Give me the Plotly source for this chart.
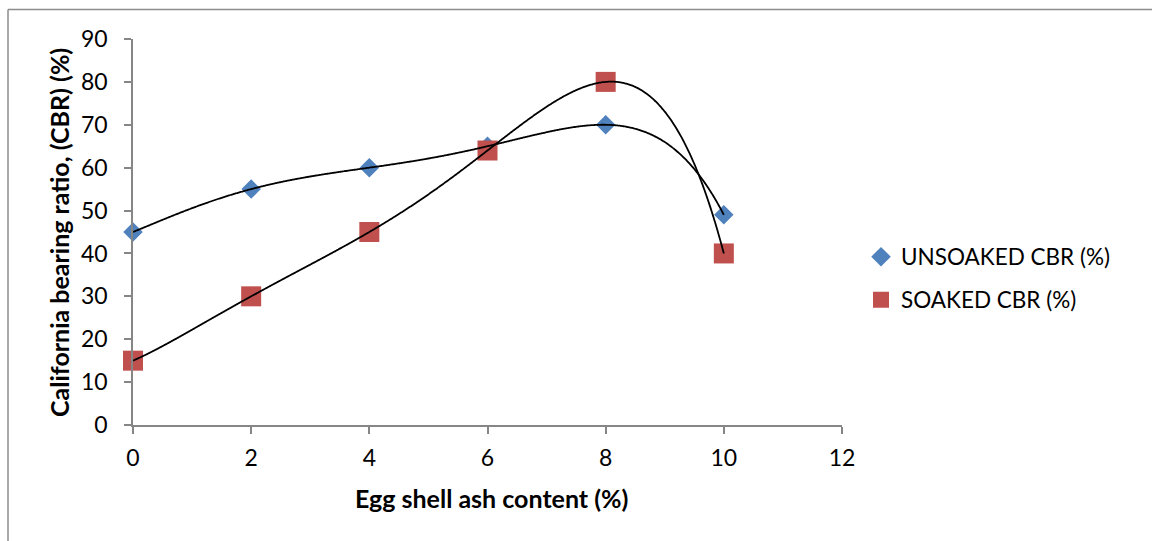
import numpy as np
import plotly.graph_objects as go

ash_content = [0, 2, 4, 6, 8, 10]
unsoaked_cbr = [45, 55, 60, 65, 70, 49]
soaked_cbr = [15, 30, 45, 64, 80, 40]
x_ticks = [0, 2, 4, 6, 8, 10, 12]
y_ticks = [0, 10, 20, 30, 40, 50, 60, 70, 80, 90]

FONT = "Lato"
AXIS_COLOR = "#868686"

fig = go.Figure()

fig.add_trace(go.Scatter(
    x=ash_content, y=unsoaked_cbr, mode="markers", name="UNSOAKED CBR (%)",
    marker=dict(symbol="diamond", size=15, color="#4F81BD"),
    cliponaxis=False, legend="legend",
))
fig.add_trace(go.Scatter(
    x=ash_content, y=soaked_cbr, mode="markers", name="SOAKED CBR (%)",
    marker=dict(symbol="square", size=20, color="#C0504D"),
    cliponaxis=False, legend="legend2",
))

# Polynomial (order 5) trendlines computed from the data
xs = np.linspace(min(ash_content), max(ash_content), 401)
for series in (unsoaked_cbr, soaked_cbr):
    coef = np.polyfit(ash_content, series, 5)
    fig.add_trace(go.Scatter(
        x=xs, y=np.polyval(coef, xs), mode="lines",
        line=dict(color="black", width=1.8, shape="spline", smoothing=0.5),
        showlegend=False, hoverinfo="skip", cliponaxis=False,
    ))

axis_common = dict(
    showline=True, linecolor=AXIS_COLOR, linewidth=1.5,
    ticks="outside", ticklen=7, tickwidth=1.5, tickcolor=AXIS_COLOR,
    showgrid=False, zeroline=False,
    tickfont=dict(family=FONT, size=23, color="#000000"),
)

LEG_X = (861 - 133) / 709

fig.update_layout(
    width=1152, height=541,
    margin=dict(l=133, r=310, t=39, b=116),
    paper_bgcolor="white", plot_bgcolor="white",
    xaxis=dict(range=[0, 12], tickvals=x_ticks, ticklabelstandoff=5, **axis_common),
    yaxis=dict(range=[0, 90], tickvals=y_ticks, ticklabelstandoff=12, **axis_common),
    legend=dict(x=LEG_X, y=(425 - 257) / 386, xanchor="left", yanchor="middle",
                font=dict(family=FONT, size=22.5, color="#000000"),
                bgcolor="rgba(0,0,0,0)", itemwidth=30),
    legend2=dict(x=LEG_X, y=(425 - 300) / 386, xanchor="left", yanchor="middle",
                 font=dict(family=FONT, size=22.5, color="#000000"),
                 bgcolor="rgba(0,0,0,0)", itemwidth=30),
    showlegend=True,
    annotations=[
        dict(text="<b>California bearing ratio, (CBR) (%)</b>", textangle=-90,
             xref="paper", yref="paper", x=(59 - 133) / 709, y=(425 - 233) / 386,
             xanchor="center", yanchor="middle", showarrow=False,
             font=dict(family=FONT, size=25, color="#000000")),
        dict(text="<b>Egg shell ash content (%)</b>",
             xref="paper", yref="paper", x=(491 - 133) / 709, y=(425 - 498) / 386,
             xanchor="center", yanchor="middle", showarrow=False,
             font=dict(family=FONT, size=25, color="#000000")),
    ],
    shapes=[
        dict(type="line", xref="paper", yref="paper",
             x0=(8 - 133) / 709, x1=2.0, y0=1 + (39 - 9.5) / 386, y1=1 + (39 - 9.5) / 386,
             line=dict(color="#8c8c8c", width=1.5)),
        dict(type="line", xref="paper", yref="paper",
             x0=(8 - 133) / 709, x1=(8 - 133) / 709, y0=1 + (39 - 9.5) / 386, y1=-1.0,
             line=dict(color="#8c8c8c", width=1.5)),
    ],
)

fig.write_html("out.html")
